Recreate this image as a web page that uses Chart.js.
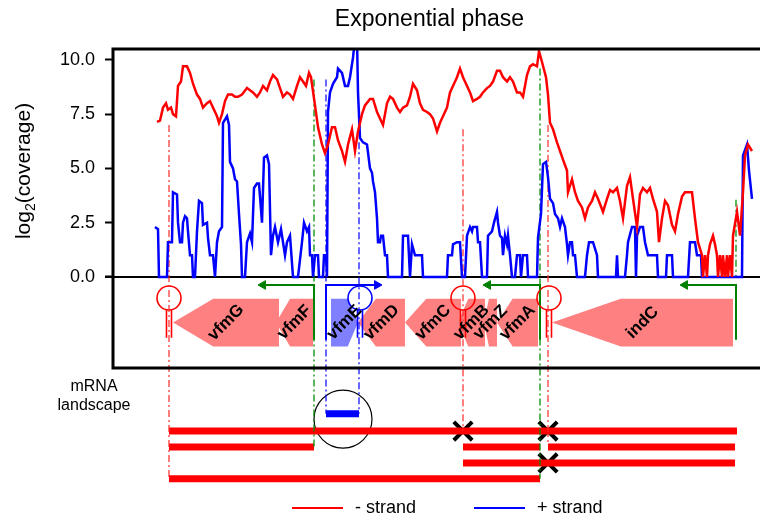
<!DOCTYPE html>
<html>
<head>
<meta charset="utf-8">
<style>
  html, body { margin: 0; padding: 0; background: #fff; }
</style>
<script src="https://cdn.jsdelivr.net/npm/chart.js"></script>
</head>
<body>
<canvas id="coverageChart" width="760" height="518"></canvas>
<script>
// coverage, positions in bp, values in log2(coverage)
const minusPos = [
  880,940,1000,1060,1100,1160,1200,1260,1300,1360,1400,1480,1540,1600,1680,1740,1800,1880,1940,2000,
  2080,2120,2180,2240,2300,2380,2440,2500,2580,2680,2740,2800,2880,2940,3000,3080,3140,3200,3280,3340,
  3400,3480,3540,3600,3680,3740,3800,3860,3920,3960,4040,4100,4180,4240,4300,4380,4440,4500,4580,4640,
  4700,4780,4840,4900,4980,5040,5140,5200,5280,5340,5400,5480,5540,5600,5680,5740,5800,5880,5940,6000,
  6080,6140,6200,6280,6340,6400,6480,6540,6600,6680,6740,6800,6880,6940,7000,7080,7140,7200,7280,7340,
  7400,7480,7540,7600,7680,7740,7800,7880,7940,8000,8080,8140,8200,8280,8340,8400,8480,8520,8580,8660,
  8700,8740,8800,8880,8940,9000,9080,9100,9180,9240,9300,9380,9440,9500,9580,9640,9700,9800,9880,9940,
  10000,10080,10140,10200,10280,10340,10400,10480,10540,10600,10680,10740,10800,10880,10920,10980,11040,11100,11180,11240,
  11300,11380,11440,11500,11580,11640,11700,11780,11800,11840,11880,11900,11940,12000,12040,12080,12100,12140,12180,12200,
  12240,12280,12300,12340,12380,12400,12480,12540,12600,12640,12700,12780
];
const minusLog2 = [
  7.14,7.2,7.8,8.0,7.7,7.8,7.5,7.4,8.8,9.0,9.7,9.7,9.4,8.9,8.4,8.2,7.8,8.0,8.1,7.8,
  7.4,7.1,7.5,8.1,8.4,8.4,8.3,8.3,8.4,8.7,8.6,8.5,8.3,8.5,8.8,8.6,9.0,9.3,9.1,8.7,
  8.3,8.5,8.4,8.2,8.8,9.2,9.0,8.8,9.4,9.2,7.9,6.9,6.1,5.7,6.1,6.9,6.9,6.3,5.8,5.3,
  6.1,6.8,5.8,6.7,7.5,7.9,8.2,8.2,7.6,7.3,7.0,8.0,8.3,8.2,7.8,7.6,7.8,7.9,8.3,8.9,
  8.6,8.0,7.7,7.6,7.5,7.3,6.7,7.1,7.4,7.8,8.5,8.8,9.2,9.6,9.2,8.8,8.5,8.1,8.2,8.3,
  8.5,8.7,8.8,9.0,9.5,9.5,9.2,9.0,9.2,9.0,8.5,8.5,8.3,9.3,9.7,9.8,9.7,10.4,9.9,9.2,
  8.4,7.1,6.8,6.2,5.8,5.4,4.9,3.9,4.5,3.9,3.5,3.2,2.7,3.2,3.5,3.9,3.6,3.0,3.6,4.0,
  3.9,4.1,3.5,2.7,4.2,4.6,3.6,2.3,3.8,4.1,3.9,4.1,3.6,3.0,1.6,2.7,3.5,3.3,2.4,2.1,
  2.9,3.7,3.9,3.9,3.9,2.7,1.6,1.0,0,1.0,0,1.0,1.5,1.9,1.5,1.0,0,1.0,0,1.0,
  0,1.0,0,1.0,0,1.9,3.0,1.9,3.9,5.6,6.1,5.8
];
const plusPos = [
  840,900,920,1080,1100,1180,1200,1280,1300,1340,1380,1400,1440,1480,1500,1540,1580,1600,1640,1680,
  1720,1780,1800,1880,1900,1940,2000,2040,2080,2120,2180,2200,2280,2320,2340,2400,2440,2480,2520,2560,
  2580,2640,2680,2740,2780,2820,2880,2920,2980,3020,3080,3120,3160,3200,3240,3300,3360,3400,3440,3480,
  3540,3600,3700,3780,3820,3880,3920,3940,3980,4000,4040,4100,4120,4200,4220,4260,4280,4300,4340,4400,
  4480,4500,4580,4640,4700,4740,4800,4840,4880,4900,4940,5000,5080,5140,5180,5200,5240,5280,5300,5340,
  5360,5400,5440,5480,5500,5780,5800,5900,5940,5980,6040,6180,6200,6680,6700,6780,6800,6880,6940,6980,
  7040,7080,7140,7180,7200,7280,7300,7340,7380,7480,7500,7580,7620,7680,7700,7740,7780,7800,7840,7880,
  7900,7940,7980,8040,8080,8140,8160,8200,8280,8300,8480,8500,8560,8600,8660,8700,8740,8800,8840,8900,
  8940,8980,9040,9080,9100,9140,9180,9200,9240,9280,9440,9480,9520,9600,9680,9700,10060,10080,10100,10240,
  10280,10300,10380,10440,10460,10480,10540,10600,10640,10700,10880,10900,11060,11080,11180,11200,11500,11540,11640,11680,
  11760,11780,12580,12600,12680,12720,12780
];
const plusLog2 = [
  2.3,2.2,0,0,1.6,1.6,3.9,3.8,2.5,1.6,1.6,2.5,2.8,2.7,2.1,1.0,1.0,0,0,2.1,
  3.5,3.4,2.4,2.5,1.8,1.0,1.0,0,1.6,2.1,2.3,7.1,7.4,7.0,5.3,5.0,4.5,4.4,2.9,1.5,
  0,0,1.6,2.0,1.6,4.1,4.3,4.3,2.5,5.5,5.6,5.2,1.0,1.9,2.3,1.6,2.2,1.6,1.0,1.6,
  1.9,0,0,1.6,2.5,2.1,2.3,1.0,1.0,0,1.0,1.0,0,0,1.0,1.0,0,7.6,8.5,8.9,
  9.2,9.6,9.4,8.8,8.8,9.2,10.1,11.0,11.0,8.5,6.4,6.2,6.1,5.0,4.8,4.4,3.9,2.7,1.6,1.6,
  1.9,1.9,1.0,1.0,0,0,1.9,1.9,0,1.5,1.0,1.0,0,0,1.0,1.0,1.5,1.6,1.6,0,
  0,1.9,2.3,2.1,2.3,2.3,1.6,1.6,0,0,1.9,2.1,2.5,3.0,2.5,1.9,1.8,1.0,1.9,1.5,
  1.9,1.0,0,0,1.0,1.0,0,1.0,1.0,0,0,1.8,2.9,5.2,5.3,4.6,3.6,3.4,2.9,2.7,
  2.3,2.7,2.3,1.5,1.0,1.6,1.6,1.0,1.0,0,0,1.0,1.6,1.6,1.0,0,0,1.0,0,0,
  1.0,1.6,2.3,2.3,0,1.9,2.3,2.3,1.6,1.0,1.0,0,0,1.0,1.0,0,0,1.6,1.6,1.0,
  1.0,0,0,5.6,6.1,4.9,3.6
];
const yTicks = [0, 2.5, 5, 7.5, 10];

// genes (bp)
const geneNames  = ['vfmG', 'vfmF', 'vfmE', 'vfmD', 'vfmC', 'vfmB', 'vfmZ', 'vfmA', 'indC'];
const geneStart  = [1200, 3260, 4360, 4900, 5840, 6900, 7420, 7680, 8780];
const geneEnd    = [3320, 4000, 4900, 5840, 6960, 7440, 7680, 8500, 12400];
const geneStrand = ['-', '-', '+', '-', '-', '-', '-', '-', '-'];

// terminators and promoters (bp)
const termPos    = [1120, 4940, 7000, 8720];
const termStrand = ['-', '+', '-', '-'];
const promPos    = [4020, 4260, 8540, 12460];
const promEnd    = [3000, 5280, 7500, 11440];
const promStrand = ['-', '+', '-', '-'];

// dash-dot guides: position, top and bottom (log2 units of the shared axis)
const guidePos    = [1120, 4020, 4260, 4920, 7000, 8540, 8700, 12460];
const guideTop    = [7.0, 9.1, 9.1, 6.2, 6.8, 9.6, 7.0, 3.55];
const guideBottom = [-9.3, -7.85, -6.3, -6.3, -7.1, -9.3, -7.6, 0];
const guideKind   = ['term', 'prom', 'plus', 'plus', 'term', 'prom', 'term', 'prom'];

// mRNA landscape
const rnaStart = [1120, 1120, 7000, 8700, 7000, 1120];
const rnaEnd   = [12480, 4020, 8540, 12440, 12440, 8540];
const rnaRow   = [0, 1, 1, 1, 2, 3];
const plusRnaStart = [4260];
const plusRnaEnd   = [4920];
const stopPos = [7000, 8700, 8700];
const stopRow = [0, 0, 2];
const highlightPos = [4600];

// layout constants in axis units
const GENE_TOP = -1.0, GENE_BOTTOM = -3.2, PANEL_BOTTOM = -4.2;
const TERM_Y = -0.97, STEM_TOP = -1.52, STEM_BOTTOM = -2.8;
const PROM_Y = -0.37, PROM_BOTTOM = -2.9;
const ROW_Y = [-7.1, -7.83, -8.57, -9.3];
const PLUS_RNA_Y = -6.3, HIGHLIGHT_Y = -6.55;

const RED = '#ff0000', BLUE = '#0000ff', GREEN = '#008000';
const guideColor = { term: 'rgba(255,40,40,0.75)', prom: 'rgba(0,140,0,0.8)', plus: 'rgba(0,0,255,0.75)' };
const FONT = "'Liberation Sans', Arial, sans-serif";

const pts = (xs, ys) => xs.map((v, i) => ({ x: v, y: ys[i] }));
const datasets = [];

datasets.push({ label: '- strand', data: pts(minusPos, minusLog2), borderColor: RED, borderWidth: 2.5 });
datasets.push({ label: '+ strand', data: pts(plusPos, plusLog2), borderColor: BLUE, borderWidth: 2.5 });

guidePos.forEach((p, i) => {
  datasets.push({
    data: [{ x: p, y: guideTop[i] }, { x: p, y: guideBottom[i] }],
    borderColor: guideColor[guideKind[i]], borderWidth: 1.6, borderDash: [7, 3, 2, 3]
  });
});

termPos.forEach((p, i) => {
  const c = termStrand[i] === '-' ? RED : BLUE;
  datasets.push({
    data: [{ x: p, y: TERM_Y }], showLine: false,
    pointRadius: 12, pointStyle: 'circle', pointBorderColor: c, pointBorderWidth: 1.6,
    pointBackgroundColor: 'rgba(255,255,255,0)'
  });
  datasets.push({
    data: [{ x: p - 50, y: STEM_TOP }, { x: p - 50, y: STEM_BOTTOM }, { x: p, y: null },
           { x: p + 50, y: STEM_TOP }, { x: p + 50, y: STEM_BOTTOM }],
    borderColor: c, borderWidth: 1.6, spanGaps: false
  });
});

promPos.forEach((p, i) => {
  const c = promStrand[i] === '-' ? GREEN : BLUE;
  datasets.push({
    data: [{ x: p, y: PROM_BOTTOM }, { x: p, y: PROM_Y }, { x: promEnd[i], y: PROM_Y }],
    borderColor: c, borderWidth: 2,
    pointRadius: [0, 0, 5], pointStyle: 'triangle', pointRotation: promStrand[i] === '-' ? -90 : 90,
    pointBackgroundColor: c, pointBorderColor: c, pointBorderWidth: 1
  });
});

rnaStart.forEach((s, i) => {
  datasets.push({
    data: [{ x: s, y: ROW_Y[rnaRow[i]] }, { x: rnaEnd[i], y: ROW_Y[rnaRow[i]] }],
    borderColor: RED, borderWidth: 7, borderCapStyle: 'butt'
  });
});
plusRnaStart.forEach((s, i) => {
  datasets.push({
    data: [{ x: s, y: PLUS_RNA_Y }, { x: plusRnaEnd[i], y: PLUS_RNA_Y }],
    borderColor: BLUE, borderWidth: 7, borderCapStyle: 'butt'
  });
});
datasets.push({
  data: stopPos.map((p, i) => ({ x: p, y: ROW_Y[stopRow[i]] })), showLine: false,
  pointRadius: 13, pointStyle: 'crossRot', pointBorderColor: '#000', pointBorderWidth: 4
});
datasets.push({
  data: highlightPos.map(p => ({ x: p, y: HIGHLIGHT_Y })), showLine: false,
  pointRadius: 29, pointStyle: 'circle', pointBorderColor: '#000', pointBorderWidth: 1.2,
  pointBackgroundColor: 'rgba(255,255,255,0)'
});

const annotationPlugin = {
  id: 'annotation',
  beforeDatasetsDraw(chart) {
    const { ctx, chartArea: a, scales: { x, y } } = chart;
    const top = y.getPixelForValue(GENE_TOP), bot = y.getPixelForValue(GENE_BOTTOM), mid = (top + bot) / 2;
    ctx.save();
    geneNames.forEach((name, i) => {
      const s = x.getPixelForValue(geneStart[i]), e = x.getPixelForValue(geneEnd[i]);
      const head = (e - s) * 0.38;
      ctx.beginPath();
      if (geneStrand[i] === '-') {
        ctx.moveTo(s, mid); ctx.lineTo(s + head, top); ctx.lineTo(e, top); ctx.lineTo(e, bot); ctx.lineTo(s + head, bot);
      } else {
        ctx.moveTo(e, mid); ctx.lineTo(e - head, top); ctx.lineTo(s, top); ctx.lineTo(s, bot); ctx.lineTo(e - head, bot);
      }
      ctx.closePath();
      ctx.fillStyle = geneStrand[i] === '-' ? '#ff8080' : '#8080ff';
      ctx.fill();
    });
    // zero line
    ctx.strokeStyle = '#000';
    ctx.lineWidth = 2;
    const y0 = y.getPixelForValue(0);
    ctx.beginPath(); ctx.moveTo(a.left - 8, y0); ctx.lineTo(a.right, y0); ctx.stroke();
    ctx.restore();
  },
  afterDatasetsDraw(chart) {
    const { ctx, chartArea: a, scales: { x, y } } = chart;
    ctx.save();
    // frame
    const yb = y.getPixelForValue(PANEL_BOTTOM);
    ctx.strokeStyle = '#000';
    ctx.lineWidth = 3;
    ctx.beginPath();
    ctx.moveTo(a.right, a.top); ctx.lineTo(a.left, a.top); ctx.lineTo(a.left, yb); ctx.lineTo(a.right, yb);
    ctx.stroke();

    // gene labels
    const mid = (y.getPixelForValue(GENE_TOP) + y.getPixelForValue(GENE_BOTTOM)) / 2;
    ctx.fillStyle = '#000';
    ctx.font = 'bold 17px ' + FONT;
    ctx.textAlign = 'center';
    ctx.textBaseline = 'middle';
    geneNames.forEach((name, i) => {
      const cx = x.getPixelForValue((geneStart[i] + geneEnd[i]) / 2);
      ctx.save();
      ctx.translate(cx, mid);
      ctx.rotate(-Math.PI / 4);
      ctx.fillText(name, 0, 0);
      ctx.restore();
    });

    // title
    ctx.font = '23px ' + FONT;
    ctx.fillText('Exponential phase', (a.left + a.right) / 2 - 7, 20);

    // y title with subscript
    ctx.save();
    ctx.translate(30, (a.top + y.getPixelForValue(0)) / 2 + 8);
    ctx.rotate(-Math.PI / 2);
    ctx.textAlign = 'left';
    ctx.textBaseline = 'alphabetic';
    const big = '21px ' + FONT, small = '14px ' + FONT;
    ctx.font = big; const w1 = ctx.measureText('log').width, w3 = ctx.measureText('(coverage)').width;
    ctx.font = small; const w2 = ctx.measureText('2').width;
    let px = -(w1 + w2 + w3) / 2;
    ctx.font = big; ctx.fillText('log', px, 0); px += w1;
    ctx.font = small; ctx.fillText('2', px, 5); px += w2;
    ctx.font = big; ctx.fillText('(coverage)', px, 0);
    ctx.restore();

    // mRNA landscape caption
    ctx.font = '16px ' + FONT;
    ctx.textAlign = 'center';
    ctx.fillText('mRNA', 94, 387);
    ctx.fillText('landscape', 94, 406);

    // legend
    const items = [[292, chart.data.datasets[0]], [474, chart.data.datasets[1]]];
    ctx.font = '18px ' + FONT;
    ctx.textAlign = 'left';
    items.forEach(([lx, ds]) => {
      ctx.strokeStyle = ds.borderColor;
      ctx.lineWidth = 2;
      ctx.beginPath(); ctx.moveTo(lx, 508); ctx.lineTo(lx + 51, 508); ctx.stroke();
      ctx.fillStyle = '#000';
      ctx.fillText(ds.label, lx + 63, 508);
    });
    ctx.restore();
  }
};

new Chart(document.getElementById('coverageChart'), {
  type: 'line',
  data: { datasets },
  options: {
    responsive: false,
    animation: false,
    layout: { autoPadding: false, padding: { top: 49, right: 0, bottom: 28, left: 0 } },
    plugins: { legend: { display: false }, tooltip: { enabled: false } },
    elements: { line: { tension: 0 }, point: { radius: 0 } },
    scales: {
      x: { type: 'linear', min: 0, max: 12940, display: false },
      y: {
        min: -9.816, max: 10.5,
        afterBuildTicks: s => { s.ticks = yTicks.map(v => ({ value: v })); },
        afterFit: s => { s.width = 113; },
        grid: { drawOnChartArea: false, drawTicks: true, tickLength: 8, tickWidth: 2, tickColor: '#000' },
        border: { display: false },
        ticks: { padding: 10, color: '#000', font: { family: FONT, size: 18 }, callback: v => v.toFixed(1) }
      }
    }
  },
  plugins: [annotationPlugin]
});
</script>
</body>
</html>
